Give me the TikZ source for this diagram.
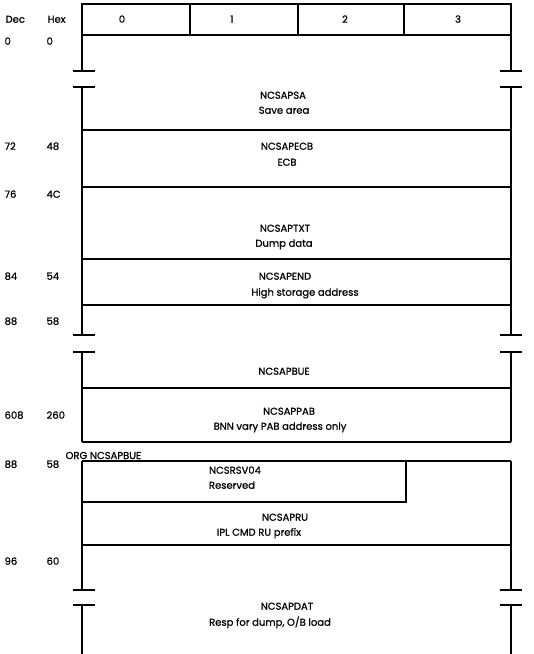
\documentclass[tikz,border=0pt]{standalone}
\usepackage{fontspec}
\setmainfont{Poppins}[FakeBold=0.8]
\begin{document}
\begin{tikzpicture}[x=1pt,y=-1pt,line width=1.2pt,
  txt/.style={font=\fontsize{10}{12}\selectfont,inner sep=0pt},
  fld/.style={txt,anchor=mid},
  addr/.style={txt,anchor=mid west}]
\useasboundingbox (0,0) rectangle (534,654);

% ---- header row with byte numbers
\draw (82,4) rectangle (511,35);
\foreach \cx in {190,298,404} \draw (\cx,4) -- (\cx,35);
\node[fld] (b0) at (122,20) {0};
\node[fld] (b1) at (232,20) {1};
\node[fld] (b2) at (345,20) {2};
\node[fld] (b3) at (458,20) {3};
\node[addr] (dech) at (5,20) {Dec};
\node[addr] (hexh) at (47,20) {Hex};

% ---- side walls with break marks
\foreach \wx/\ta/\tb in {82/73/95, 511/500/522} {
  \draw (\wx,35) -- (\wx,71);
  \draw (\ta,71) -- (\tb,71);
  \draw (\ta,87) -- (\tb,87);
  \draw (\wx,87) -- (\wx,335);
  \draw (\ta,335) -- (\tb,335);
  \draw (\ta,352) -- (\tb,352);
  \draw (\wx,352) -- (\wx,442);
  \draw (\wx,461) -- (\wx,590);
  \draw (\ta,590) -- (\tb,590);
  \draw (\ta,605) -- (\tb,605);
  \draw (\wx,605) -- (\wx,654);
}

% ---- field boundaries
\foreach \ry in {130,187,259,305,388,442,461,545}
  \draw (82,\ry) -- (511,\ry);
\draw (82,502) -- (406,502) -- (406,461);

% ---- field names and descriptions
\node[fld] (psa)  at (283,96)  {NCSAPSA};
\node[fld] (psad) at (284,111) {Save area};
\node[fld] (ecb)  at (287,147) {NCSAPECB};
\node[fld] (ecbd) at (287,163) {ECB};
\node[fld] (txt)  at (285,229) {NCSAPTXT};
\node[fld] (txtd) at (284,244) {Dump data};
\node[fld] (nd)   at (285,277) {NCSAPEND};
\node[fld] (ndd)  at (305,293) {High storage address};
\node[fld] (bue)  at (284,372) {NCSAPBUE};
\node[fld] (pab)  at (289,412) {NCSAPPAB};
\node[fld] (pabd) at (280,427) {BNN vary PAB address only};
\node[txt,anchor=base west] (org) at (65,459) {ORG NCSAPBUE};
\node[fld] (rsv)  at (235,471) {NCSRSV04};
\node[fld] (rsvd) at (232,486) {Reserved};
\node[fld] (ru)   at (285,518) {NCSAPRU};
\node[fld] (rud)  at (259,533) {IPL CMD RU prefix};
\node[fld] (dat)  at (287,607) {NCSAPDAT};
\node[fld] (datd) at (270,623) {Resp for dump, O/B load};

% ---- decimal and hexadecimal offsets
\foreach \dv/\hv/\ay [count=\i] in {0/0/42, 72/48/147, 76/4C/195, 84/54/277,
    88/58/322, 608/260/416, 88/58/465, 96/60/562} {
  \node[addr] (dec\i) at (4,\ay) {\dv};
  \node[addr] (hex\i) at (46,\ay) {\hv};
}
\end{tikzpicture}
\end{document}
